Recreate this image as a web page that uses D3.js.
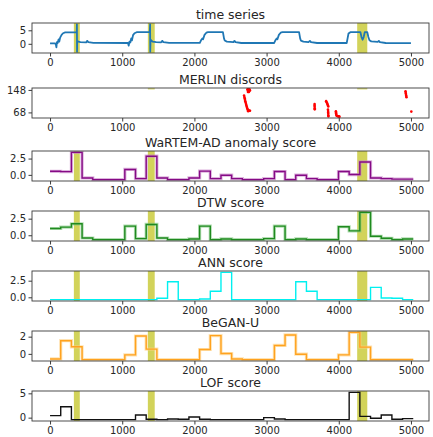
<!DOCTYPE html>
<meta charset="utf-8">

<style>

body { margin: 0; background: #fff; }

svg text {
  font-family: "DejaVu Sans", sans-serif;
  fill: #262626;
}

.tick text { font-size: 10px; }

.title { font-size: 12.5px; }

</style>

<svg class="chart" width="433" height="437"></svg>

<script src="https://d3js.org/d3.v7.min.js"></script>

<script>

// ---- data ----

// labelled anomaly ranges (time index)
var anomalySpans = [[330, 412], [1355, 1450], [4255, 4395]];

// raw time series, key points
var tsT = [0, 70, 80, 88, 95, 105, 118, 128, 140, 160, 180, 210, 260, 366,
  370, 372, 374, 376, 395, 420, 500, 515, 530, 600, 1080, 1090, 1100, 1112,
  1125, 1135, 1150, 1170, 1200, 1382, 1386, 1388, 1392, 1420, 1470, 1540,
  1555, 1570, 1650, 2075, 2090, 2110, 2120, 2140, 2165, 2190, 2395, 2410,
  2420, 2450, 2540, 2555, 2570, 2650, 3105, 3120, 3140, 3150, 3170, 3195,
  3220, 3450, 3465, 3475, 3510, 3580, 3600, 3615, 3700, 4110, 4122, 4135,
  4160, 4300, 4315, 4330, 4345, 4360, 4395, 4410, 4425, 4450, 4540, 4555,
  4570, 4650, 5000];
var tsV = [0.15, 0.15, -0.2, -1.3, 0.6, 0.3, 1.6, 0.8, 2.3, 3.3, 3.9, 4.2, 4.2, 4.2,
  4.2, 7.2, -2.9, 1.0, 0.8, 0.6, 0.5, 1.1, 0.6, 0.35, 0.3, -0.7, 0.8, 0.5,
  2.0, 1.3, 3.2, 3.9, 4.3, 4.3, 7.2, -2.9, 1.5, 0.8, 0.6, 0.55,
  1.1, 0.6, 0.35, 0.35, 1.2, 2.0, 1.7, 3.3, 4.1, 4.3, 4.3, 2.0,
  1.2, 0.8, 0.6, 1.1, 0.6, 0.3, 0.3, 1.2, 2.0, 1.7, 3.3, 4.1,
  4.3, 4.3, 2.0, 1.2, 0.8, 0.6, 1.1, 0.6, 0.3, 0.3, 2.0, 3.8,
  4.3, 4.3, 2.5, 1.5, 2.5, 4.3, 4.3, 2.5, 1.3, 0.9, 0.7, 1.1,
  0.6, 0.3, 0.25];

// MERLIN discords: location and discord length
var merlinPos = [2735, 2745, 2755, 2765, 2740, 2750, 2760, 2770, 2742, 2755,
  2688, 2692, 2697, 2700, 2705, 2710, 2715, 2720, 2725, 2730, 2735,
  2740, 2750, 2760, 2770, 2745,
  3665, 3665, 3666, 3667, 3667,
  3825, 3832, 3840, 3845, 3850, 3855, 3850, 3852, 3853, 3854, 3855, 3856,
  3960, 3962, 3963, 3965, 3970, 3980, 3990, 4000, 4010,
  4925, 4927, 4930, 4932, 4935, 4938,
  5005];
var merlinLen = [150, 150, 150, 149, 146, 145, 145, 146, 141, 141,
  128, 123, 118, 113, 108, 103, 98, 93, 88, 84, 80,
  77, 75, 75, 74, 72,
  98, 93, 88, 83, 79,
  108, 104, 100, 96, 92, 89, 78, 73, 68, 63, 58, 54,
  72, 68, 64, 60, 56, 55, 54, 54, 53,
  143, 138, 134, 130, 126, 122,
  71];

// score windows (window length 148)
var windowEdges = [0, 148, 296, 444, 592, 740, 888, 1036, 1184, 1332, 1480,
  1628, 1776, 1924, 2072, 2220, 2368, 2516, 2664, 2812, 2960, 3108, 3256,
  3404, 3552, 3700, 3848, 3996, 4144, 4292, 4440, 4588, 4736, 4884, 5032];

var wartemScore = [0.55, 0.5, 3.45, -0.47, -0.73, -0.73, -0.73, 0.83, -0.57, 2.86,
  -0.47, -0.73, -0.73, -0.47, 0.57, -0.57, -0.05, -0.57, -0.73, -0.73, -0.57,
  0.52, -0.73, -0.05, -0.57, -0.73, -0.73, 0.52, 0.05, 1.98, -0.47, -0.57,
  -0.65, -0.65];

var dtwScore = [1.02, 1.22, 1.73, -0.41, -0.66, -0.66, -0.66, 1.38, -0.51, 1.63,
  -0.41, -0.66, -0.66, -0.56, 1.38, -0.66, -0.56, -0.66, -0.66, -0.66, -0.51,
  1.38, -0.66, -0.56, -0.66, -0.66, -0.66, 1.28, 0.66, 3.45, -0.15, -0.46,
  -0.66, -0.56];

var annScore = [-0.35, -0.35, -0.35, -0.35, -0.35, -0.35, -0.35, -0.35, -0.35, -0.35,
  -0.15, 2.35, -0.35, -0.35, -0.25, 0.9, 3.75, -0.35, -0.35, -0.35, -0.35,
  -0.35, -0.35, 2.35, 0.9, -0.35, -0.35, -0.35, -0.35, -0.35, 1.5, -0.1,
  -0.15, -0.35];

var beganScore = [-0.59, 1.53, 0.82, -0.67, -0.67, -0.67, -0.67, -0.12, 2.08, 0.55,
  -0.67, -0.67, -0.67, -0.67, 0.51, 2.12, 0.04, -0.59, -0.67, -0.67, -0.67,
  0.98, 2.2, -0.04, -0.67, -0.67, -0.67, -0.12, 2.5, 0.78, -0.67, -0.67,
  -0.67, -0.67];

var lofScore = [0.41, 2.23, -0.41, -0.41, -0.41, -0.41, -0.41, -0.41, 0.54, -0.34,
  -0.41, -0.27, -0.34, 0.14, -0.34, -0.41, -0.41, -0.41, -0.41, -0.41, 0.0,
  -0.27, -0.41, -0.41, -0.41, -0.41, -0.41, -0.41, 5.2, 0.27, -0.14, 0.54,
  -0.34, -0.2];

var xTicks = [0, 1000, 2000, 3000, 4000, 5000];

// ---- layout ----

var left = 32, right = 429, panelH = 30;
var spanColor = "#d2d35a";

var panels = [
  {title: "time series", top: 23, kind: "series", yTicks: [0, 5], fmt: d3.format("d"), color: "#1f77b4"},
  {title: "MERLIN discords", top: 88, kind: "dots", yTicks: [68, 148], fmt: d3.format("d"), color: "#ff0000"},
  {title: "WaRTEM-AD anomaly score", top: 151, kind: "step", values: wartemScore, yTicks: [0, 2.5], fmt: d3.format(".1f"), color: "#850a85", halo: "#c880c8"},
  {title: "DTW score", top: 211, kind: "step", values: dtwScore, yTicks: [0, 2.5], fmt: d3.format(".1f"), color: "#1f8a1f", halo: "#80c880"},
  {title: "ANN score", top: 271, kind: "step", values: annScore, yTicks: [0, 2.5], fmt: d3.format(".1f"), color: "#00f0f0"},
  {title: "BeGAN-U", top: 331, kind: "step", values: beganScore, yTicks: [0, 2], fmt: d3.format("d"), color: "#ffa21f", halo: "#ffd080"},
  {title: "LOF score", top: 391, kind: "step", values: lofScore, yTicks: [0, 5], fmt: d3.format("d"), color: "#111111"}
];

var svg = d3.select("svg.chart");

var x = d3.scaleLinear().domain([-250, 5250]).range([left, right]);

function padded(ext) {
  var pad = (ext[1] - ext[0]) * 0.05;
  return [ext[0] - pad, ext[1] + pad];
}

panels.forEach(function(p, k) {
  var g = svg.append("g").attr("transform", "translate(0," + p.top + ")");

  var ext;
  if (p.kind === "series") ext = d3.extent(tsV);
  else if (p.kind === "dots") ext = d3.extent(merlinLen);
  else ext = d3.extent(p.values);

  var y = d3.scaleLinear().domain(padded(ext)).range([panelH, 0]);

  g.append("clipPath").attr("id", "clip" + k)
    .append("rect")
      .attr("x", left).attr("y", 0)
      .attr("width", right - left).attr("height", panelH);

  var plot = g.append("g").attr("clip-path", "url(#clip" + k + ")");

  // anomaly spans
  if (p.kind === "dots") {
    // only a sliver of two spans shows at the top of this panel
    plot.selectAll("rect.span")
      .data(anomalySpans.slice(1))
      .enter().append("rect")
        .attr("class", "span")
        .attr("x", function(d) { return x(d[0]); })
        .attr("width", function(d) { return x(d[1]) - x(d[0]); })
        .attr("y", 0)
        .attr("height", 1.5)
        .attr("fill", spanColor)
        .attr("opacity", 0.8);
  } else {
    plot.selectAll("rect.span")
      .data(anomalySpans)
      .enter().append("rect")
        .attr("class", "span")
        .attr("x", function(d) { return x(d[0]); })
        .attr("width", function(d) { return x(d[1]) - x(d[0]); })
        .attr("y", 0)
        .attr("height", panelH)
        .attr("fill", spanColor);
  }

  if (p.kind === "series") {
    var line = d3.line()
      .x(function(d, i) { return x(tsT[i]); })
      .y(function(d) { return y(d); });
    plot.append("path")
      .datum(tsV)
      .attr("d", line)
      .attr("fill", "none")
      .attr("stroke", p.color)
      .attr("stroke-width", 1.8)
      .attr("stroke-linejoin", "round");
  } else if (p.kind === "dots") {
    plot.selectAll("circle")
      .data(merlinLen)
      .enter().append("circle")
        .attr("cx", function(d, i) { return x(merlinPos[i]); })
        .attr("cy", function(d) { return y(d); })
        .attr("r", 1.3)
        .attr("fill", p.color);
  } else {
    var pts = p.values.map(function(v, i) { return [windowEdges[i], v]; });
    pts.push([windowEdges[p.values.length], p.values[p.values.length - 1]]);
    var step = d3.line()
      .curve(d3.curveStepAfter)
      .x(function(d) { return x(d[0]); })
      .y(function(d) { return y(d[1]); });
    if (p.halo) {
      plot.append("path")
        .attr("d", step(pts))
        .attr("fill", "none")
        .attr("stroke", p.halo)
        .attr("stroke-opacity", 0.6)
        .attr("stroke-width", 3.2);
    }
    plot.append("path")
      .attr("d", step(pts))
      .attr("fill", "none")
      .attr("stroke", p.color)
      .attr("stroke-width", 1.4);
  }

  // frame
  g.append("rect")
    .attr("x", left).attr("y", 0)
    .attr("width", right - left).attr("height", panelH)
    .attr("fill", "none")
    .attr("stroke", "#3a3a3a")
    .attr("stroke-width", 0.9);

  // axes
  var xAxis = g.append("g")
    .attr("transform", "translate(0," + panelH + ")")
    .call(d3.axisBottom(x).tickValues(xTicks).tickFormat(d3.format("d")).tickSize(3.5).tickPadding(2.5));
  xAxis.select(".domain").remove();

  var yAxis = g.append("g")
    .attr("transform", "translate(" + left + ",0)")
    .call(d3.axisLeft(y).tickValues(p.yTicks).tickFormat(p.fmt).tickSize(3.5).tickPadding(2.5));
  yAxis.select(".domain").remove();

  g.selectAll(".tick line").attr("stroke", "#3a3a3a");

  g.append("text")
    .attr("class", "title")
    .attr("x", (left + right) / 2)
    .attr("y", -4)
    .attr("text-anchor", "middle")
    .text(p.title);
});

</script>
